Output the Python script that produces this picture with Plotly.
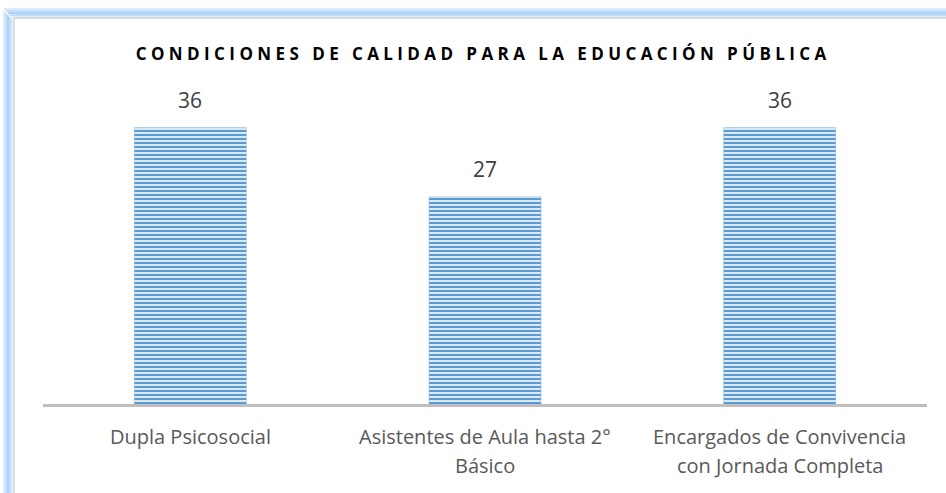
import plotly.graph_objects as go

categories = ["Dupla Psicosocial", "Asistentes de Aula hasta 2° Básico", "Encargados de Convivencia con Jornada Completa"]
values = [36, 27, 36]
label_line1 = ["Dupla Psicosocial", "Asistentes de Aula hasta 2°", "Encargados de Convivencia"]
label_line2 = ["", "Básico", "con Jornada Completa"]
title_text = "CONDICIONES DE CALIDAD PARA LA EDUCACIÓN PÚBLICA"

W, H = 946, 493
L, R, T, B = 43, 19, 97, 89
pw, ph = W - L - R, H - T - B
FONT = "Open Sans"

def px_x(px):
    return (px - L) / pw

def px_y(py):
    return (H - B - py) / ph

def spaced(s):
    words = s.split(" ")
    return "\u00a0\u00a0\u00a0".join("\u00a0".join(list(w)) for w in words)

fig = go.Figure()
fig.add_trace(go.Bar(
    x=categories, y=values, width=0.38,
    marker=dict(
        color="#dce9f6",
        pattern=dict(shape="-", fgcolor="#5b9bd5", bgcolor="#dce9f6", size=4, solidity=0.5, fillmode="replace"),
        line=dict(color="rgba(91,155,213,0.35)", width=1),
    ),
    hoverinfo="skip",
))

annotations = []
for c, v in zip(categories, values):
    annotations.append(dict(x=c, y=v, xref="x", yref="y", text=str(v), showarrow=False,
                            yanchor="bottom", yshift=12,
                            font=dict(family=FONT, size=21, color="#404040")))
for c, l1, l2 in zip(categories, label_line1, label_line2):
    annotations.append(dict(x=c, y=px_y(436), xref="x", yref="paper", text=l1, showarrow=False,
                            yanchor="middle", font=dict(family=FONT, size=20, color="#595959")))
    if l2:
        annotations.append(dict(x=c, y=px_y(465), xref="x", yref="paper", text=l2, showarrow=False,
                                yanchor="middle", font=dict(family=FONT, size=20, color="#595959")))

shapes = []
# outer glow (left and top)
for off, col in [(0, "rgba(190,222,250,0.55)"), (2, "rgba(170,210,248,0.7)"), (4, "rgba(160,205,248,0.85)"), (6, "rgba(175,214,250,0.8)"), (8, "rgba(205,228,252,0.7)")]:
    shapes.append(dict(type="line", xref="paper", yref="paper",
                       x0=px_x(4 + off), x1=px_x(4 + off), y0=px_y(11 + off), y1=px_y(520),
                       line=dict(color=col, width=2)))
    shapes.append(dict(type="line", xref="paper", yref="paper",
                       x0=px_x(4 + off), x1=px_x(960), y0=px_y(9 + off), y1=px_y(9 + off),
                       line=dict(color=col, width=2)))
# inner gray border
shapes.append(dict(type="line", xref="paper", yref="paper",
                   x0=px_x(14), x1=px_x(14), y0=px_y(18), y1=px_y(520),
                   line=dict(color="#d4d4d4", width=1.5)))
shapes.append(dict(type="line", xref="paper", yref="paper",
                   x0=px_x(14), x1=px_x(960), y0=px_y(18), y1=px_y(18),
                   line=dict(color="#d4d4d4", width=1.5)))

fig.update_layout(
    width=W, height=H,
    margin=dict(l=L, r=R, t=T, b=B),
    paper_bgcolor="white", plot_bgcolor="white",
    showlegend=False,
    title=dict(text="<b>" + spaced(title_text) + "</b>", x=px_x(481), xref="paper", xanchor="center",
               y=1 - 54 / H, yanchor="middle",
               font=dict(family=FONT, size=17, color="#000000")),
    xaxis=dict(showline=True, linecolor="#bfbfbf", linewidth=3, showticklabels=False,
               ticks="", showgrid=False, zeroline=False, fixedrange=True),
    yaxis=dict(range=[0, 40], visible=False, showgrid=False, zeroline=False, fixedrange=True),
    annotations=annotations,
    shapes=shapes,
    bargap=0.62,
)

fig.write_html("out.html", config={"displayModeBar": False},
               post_script="document.body.style.margin='0';document.body.style.overflow='hidden';")
